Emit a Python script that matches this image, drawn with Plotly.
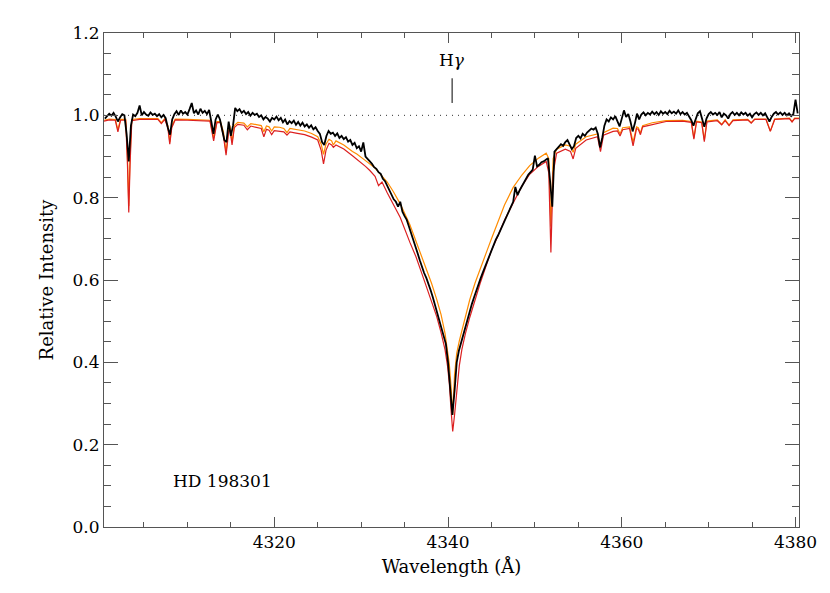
import numpy as np
import plotly.graph_objects as go

# ---------------- data ----------------
# observed spectrum (black), sampled every 0.25 A from 4300.50 A
obs_start, obs_step = 4300.5, 0.25
obs_flux = [
    0.992, 0.998, 1.004, 0.999, 1.006, 0.997, 0.985, 0.995, 1.003, 1.000, 0.955, 0.888, 0.975, 1.002, 0.998, 1.006, 1.024, 1.000, 1.008, 1.002,
    0.999, 1.007, 1.001, 1.004, 0.998, 1.003, 0.995, 1.001, 0.993, 0.970, 0.953, 0.990, 1.003, 1.010, 1.001, 1.012, 1.004, 1.008, 1.002, 1.015,
    1.030, 1.005, 1.012, 1.002, 1.016, 1.006, 1.011, 1.003, 1.013, 0.985, 0.955, 0.990, 1.002, 0.990, 0.965, 0.940, 0.935, 0.985, 0.950, 0.975,
    1.018, 1.010, 1.015, 1.006, 1.011, 1.003, 1.008, 0.999, 1.006, 1.001, 1.004, 0.996, 1.000, 0.990, 0.996, 0.992, 0.985, 0.994, 0.990, 0.997,
    0.988, 0.994, 0.983, 0.990, 0.978, 0.986, 0.981, 0.987, 0.977, 0.984, 0.975, 0.982, 0.973, 0.978, 0.970, 0.976, 0.966, 0.971, 0.962, 0.955,
    0.935, 0.928, 0.950, 0.962, 0.955, 0.958, 0.950, 0.956, 0.945, 0.950, 0.942, 0.947, 0.936, 0.940, 0.928, 0.933, 0.920, 0.925, 0.912, 0.934,
    0.900, 0.895, 0.888, 0.882, 0.874, 0.870, 0.862, 0.858, 0.846, 0.840, 0.829, 0.818, 0.806, 0.796, 0.790, 0.778, 0.790, 0.766, 0.755, 0.746,
    0.730, 0.715, 0.697, 0.682, 0.665, 0.648, 0.630, 0.617, 0.605, 0.592, 0.575, 0.558, 0.540, 0.522, 0.502, 0.482, 0.468, 0.445, 0.400, 0.340,
    0.272, 0.330, 0.400, 0.428, 0.448, 0.468, 0.485, 0.505, 0.522, 0.542, 0.558, 0.575, 0.590, 0.604, 0.618, 0.632, 0.645, 0.660, 0.672, 0.684,
    0.698, 0.708, 0.720, 0.732, 0.744, 0.755, 0.766, 0.778, 0.790, 0.826, 0.806, 0.818, 0.828, 0.838, 0.846, 0.856, 0.862, 0.868, 0.902, 0.876,
    0.880, 0.886, 0.888, 0.893, 0.896, 0.840, 0.778, 0.912, 0.918, 0.924, 0.930, 0.926, 0.935, 0.940, 0.930, 0.918, 0.925, 0.945, 0.950, 0.944,
    0.955, 0.950, 0.958, 0.962, 0.968, 0.965, 0.970, 0.955, 0.922, 0.945, 0.975, 0.990, 0.985, 0.995, 0.990, 0.998, 0.985, 0.973, 0.992, 1.012,
    0.996, 1.003, 0.985, 0.961, 0.980, 1.004, 0.990, 1.002, 1.007, 1.000, 1.006, 1.002, 1.009, 1.003, 1.008, 1.001, 1.010, 1.004, 1.008, 1.003,
    1.011, 1.005, 1.009, 1.004, 1.012, 1.003, 1.008, 1.002, 1.006, 0.998, 0.988, 0.975, 0.992, 1.005, 1.010, 0.988, 0.972, 0.992, 1.003, 1.008,
    1.002, 1.006, 1.001, 1.008, 0.995, 1.004, 1.000, 0.992, 1.003, 1.008, 1.001, 1.006, 1.000, 1.007, 1.002, 1.006, 0.999, 1.004, 0.995, 1.003,
    1.007, 1.001, 1.006, 1.000, 1.005, 0.995, 0.985, 0.996, 1.004, 1.008, 1.002, 1.007, 1.001, 1.006, 1.000, 1.005, 0.998, 1.003, 1.038, 1.005,
]
obs_wl = obs_start + obs_step * np.arange(len(obs_flux))

# synthetic spectra (orange and red models)
model_wl = [
    4300.4, 4301.0, 4301.7, 4302.0, 4302.3, 4302.9, 4303.1, 4303.25, 4303.4, 4303.6,
    4304.5, 4306.6, 4307.0, 4307.4, 4307.75, 4307.97, 4308.2, 4308.6, 4310.0, 4312.6,
    4313.02, 4313.4, 4313.8, 4314.15, 4314.45, 4314.75, 4314.9, 4315.14, 4315.4, 4315.8,
    4316.5, 4316.9, 4317.3, 4318.0, 4318.5, 4318.8, 4319.1, 4319.4, 4319.7, 4320.0,
    4320.6, 4321.1, 4321.46, 4321.8, 4322.5, 4323.5, 4324.3, 4325.0, 4325.4, 4325.67,
    4325.95, 4326.3, 4326.6, 4326.8, 4327.1, 4328.0, 4329.0, 4329.5, 4330.5, 4331.0,
    4331.6, 4332.0, 4332.4, 4333.0, 4333.7, 4334.5, 4335.6, 4336.3, 4337.0, 4337.6,
    4338.1, 4338.7, 4339.2, 4339.66, 4339.95, 4340.15, 4340.35, 4340.54, 4340.75, 4341.0,
    4341.3, 4341.6, 4342.0, 4342.5, 4343.1, 4343.7, 4344.5, 4345.0, 4345.6, 4346.5,
    4347.5, 4348.5, 4349.4, 4350.4, 4351.3, 4351.6, 4351.84, 4352.1, 4352.5, 4353.5,
    4354.1, 4354.4, 4354.7, 4355.9, 4357.2, 4357.55, 4357.9, 4359.0, 4359.5, 4359.8,
    4360.1, 4360.9, 4361.3, 4361.7, 4361.9, 4362.15, 4362.4, 4363.5, 4365.1, 4367.0,
    4368.0, 4368.3, 4368.6, 4369.2, 4369.5, 4369.8, 4371.0, 4371.5, 4371.9, 4372.35,
    4372.8, 4374.5, 4374.9, 4375.3, 4376.6, 4377.1, 4377.6, 4379.3, 4379.6, 4379.9,
    4380.4,
]
model_orange = [
    0.988, 0.991, 0.990, 0.965, 0.990, 0.990, 0.900, 0.780, 0.900, 0.990,
    0.992, 0.992, 0.982, 0.992, 0.975, 0.935, 0.975, 0.991, 0.990, 0.988,
    0.945, 0.985, 0.985, 0.960, 0.910, 0.970, 0.975, 0.935, 0.975, 0.983,
    0.981, 0.972, 0.980, 0.978, 0.975, 0.960, 0.974, 0.972, 0.962, 0.972,
    0.971, 0.968, 0.958, 0.968, 0.966, 0.962, 0.956, 0.948, 0.930, 0.905,
    0.930, 0.942, 0.938, 0.928, 0.938, 0.928, 0.912, 0.906, 0.890, 0.882,
    0.872, 0.862, 0.852, 0.838, 0.815, 0.785, 0.735, 0.695, 0.655, 0.622,
    0.592, 0.553, 0.516, 0.470, 0.431, 0.395, 0.340, 0.272, 0.370, 0.422,
    0.452, 0.476, 0.514, 0.552, 0.592, 0.628, 0.672, 0.700, 0.735, 0.782,
    0.825, 0.855, 0.878, 0.896, 0.908, 0.895, 0.730, 0.895, 0.918, 0.928,
    0.925, 0.910, 0.930, 0.948, 0.955, 0.925, 0.958, 0.969, 0.968, 0.955,
    0.970, 0.972, 0.935, 0.972, 0.970, 0.957, 0.975, 0.982, 0.987, 0.988,
    0.985, 0.945, 0.986, 0.984, 0.940, 0.986, 0.989, 0.978, 0.989, 0.976,
    0.989, 0.990, 0.982, 0.991, 0.991, 0.962, 0.991, 0.993, 0.985, 0.993,
    0.993,
]
model_red = [
    0.986, 0.989, 0.988, 0.960, 0.988, 0.988, 0.880, 0.764, 0.880, 0.987,
    0.990, 0.990, 0.980, 0.990, 0.970, 0.930, 0.970, 0.989, 0.988, 0.986,
    0.938, 0.983, 0.982, 0.950, 0.903, 0.960, 0.965, 0.928, 0.970, 0.978,
    0.976, 0.965, 0.974, 0.971, 0.968, 0.948, 0.966, 0.964, 0.953, 0.963,
    0.962, 0.960, 0.952, 0.960, 0.957, 0.953, 0.947, 0.940, 0.915, 0.882,
    0.915, 0.932, 0.928, 0.922, 0.928, 0.918, 0.902, 0.894, 0.876, 0.866,
    0.852, 0.829, 0.838, 0.812, 0.785, 0.752, 0.692, 0.657, 0.615, 0.578,
    0.546, 0.511, 0.472, 0.430, 0.390, 0.349, 0.284, 0.232, 0.272, 0.335,
    0.392, 0.432, 0.470, 0.509, 0.553, 0.592, 0.642, 0.672, 0.700, 0.745,
    0.787, 0.828, 0.857, 0.876, 0.888, 0.860, 0.667, 0.860, 0.908, 0.918,
    0.912, 0.894, 0.920, 0.940, 0.948, 0.912, 0.952, 0.961, 0.962, 0.950,
    0.965, 0.968, 0.926, 0.968, 0.966, 0.953, 0.972, 0.978, 0.985, 0.986,
    0.983, 0.942, 0.984, 0.982, 0.936, 0.984, 0.987, 0.977, 0.987, 0.975,
    0.987, 0.989, 0.981, 0.990, 0.990, 0.961, 0.990, 0.992, 0.984, 0.992,
    0.992,
]

# annotations
star_name = "HD 198301"
star_label_pos = (4314.0, 0.112)
line_name = "H<i>γ</i>"
line_wl = 4340.47
line_mark = (1.03, 1.09)
line_label_y = 1.135
continuum_level = 1.0

x_range = [4300.4, 4380.4]
y_range = [0.0, 1.2]

# ---------------- figure ----------------
FONT = "DejaVu Serif"
AXC = "#555555"
FS = 17

fig = go.Figure()
fig.add_hline(y=continuum_level, line=dict(color="#333333", width=1, dash="1px,5px"), layer="below")

fig.add_trace(go.Scatter(x=model_wl, y=model_orange, mode="lines",
                         line=dict(color="#ff8c00", width=1.2), hoverinfo="skip"))
fig.add_trace(go.Scatter(x=model_wl, y=model_red, mode="lines",
                         line=dict(color="#dc2020", width=1.2), hoverinfo="skip"))
fig.add_trace(go.Scatter(x=obs_wl, y=obs_flux, mode="lines",
                         line=dict(color="black", width=1.8), hoverinfo="skip"))

fig.add_shape(type="line", x0=line_wl, x1=line_wl, y0=line_mark[0], y1=line_mark[1],
              xref="x", yref="y", line=dict(color="black", width=1))
fig.add_annotation(x=line_wl, y=line_label_y, text=line_name, showarrow=False,
                   font=dict(family=FONT, size=FS, color="black"))
fig.add_annotation(x=star_label_pos[0], y=star_label_pos[1], text=star_name, showarrow=False,
                   font=dict(family=FONT, size=FS, color="black"))

# page body adds an 8px offset, so the figure is sized to fit the window
fig.update_layout(
    width=822, height=585,
    margin=dict(l=96, r=31, t=25, b=66),
    paper_bgcolor="white", plot_bgcolor="white",
    showlegend=False,
    font=dict(family=FONT, size=FS, color="black"),
)
fig.update_xaxes(
    range=x_range, dtick=20, tick0=4300, ticks="inside", ticklen=10, tickwidth=1, tickcolor=AXC,
    showline=True, linecolor=AXC, linewidth=1, mirror="allticks", showgrid=False, zeroline=False,
    minor=dict(dtick=5, tick0=4300, ticks="inside", ticklen=5, tickcolor=AXC, showgrid=False),
    title=dict(text="Wavelength (Å)", standoff=8, font=dict(family=FONT, size=FS + 1)),
    tickfont=dict(family=FONT, size=FS),
)
fig.update_yaxes(
    range=y_range, dtick=0.2, tick0=0, tickformat=".1f", ticks="inside", ticklen=14, tickwidth=1,
    tickcolor=AXC, showline=True, linecolor=AXC, linewidth=1, mirror="allticks", showgrid=False,
    zeroline=False,
    minor=dict(dtick=0.05, tick0=0, ticks="inside", ticklen=7, tickcolor=AXC, showgrid=False),
    title=dict(text="Relative Intensity", standoff=14, font=dict(family=FONT, size=FS + 1)),
    tickfont=dict(family=FONT, size=FS),
)

fig.write_html("out.html")
